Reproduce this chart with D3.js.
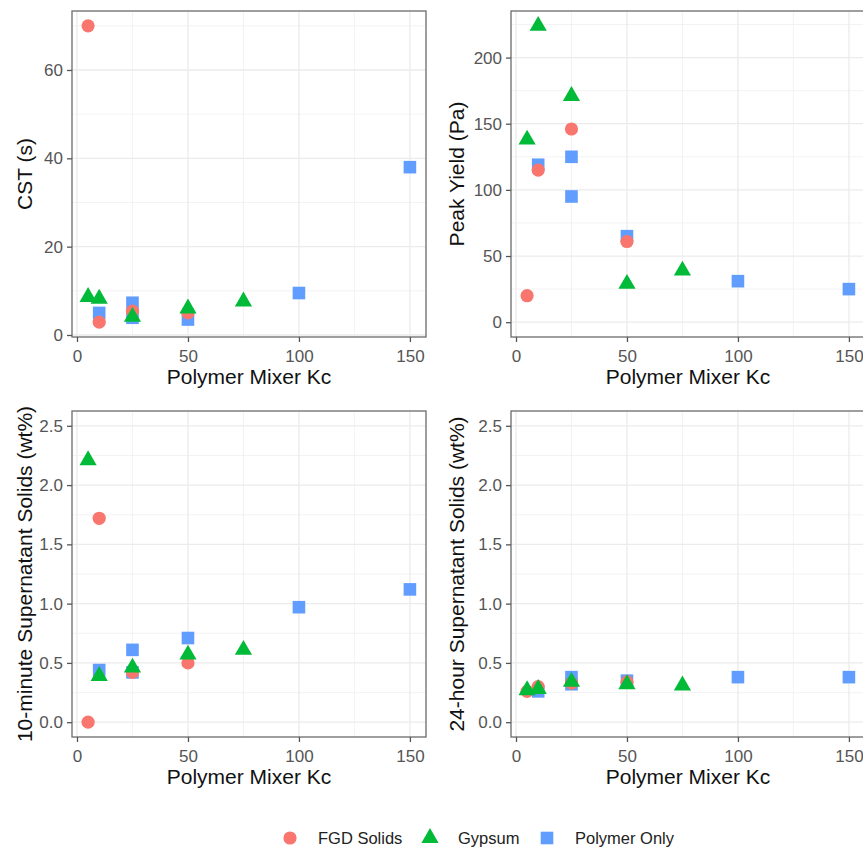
<!DOCTYPE html>
<html><head><meta charset="utf-8">
<script src="https://cdn.jsdelivr.net/npm/d3@7"></script>
<style>
html,body{margin:0;padding:0;background:#fff;overflow:hidden;}
svg{display:block;font-family:"Liberation Sans",Arial,sans-serif;}
</style></head>
<body>
<svg id="chart" width="863" height="851"></svg>
<script>
// ---- data ----
const seriesNames = ["FGD Solids", "Gypsum", "Polymer Only"];
const kcFGD  = [5, 10, 25, 50];
const kcGyp  = [5, 10, 25, 50, 75];
const kcPoly = [10, 25, 25, 50, 100, 150];

const cstFGD  = [70, 2.9, 5.4, 5.0];
const cstGyp  = [8.6, 8.2, 4.1, 6.0, 7.6];
const cstPoly = [5.0, 7.3, 3.9, 3.5, 9.5, 38];

const peakFGD  = [20, 115, 146, 61];
const peakGyp  = [138, 224, 171, 29, 39];
const peakPoly = [119, 125, 95, 65, 31, 25];

const ss10FGD  = [0.0, 1.72, 0.42, 0.50];
const ss10Gyp  = [2.21, 0.39, 0.46, 0.57, 0.61];
const ss10Poly = [0.44, 0.61, 0.42, 0.71, 0.97, 1.12];

const ss24FGD  = [0.26, 0.30, 0.33, 0.34];
const ss24Gyp  = [0.27, 0.28, 0.34, 0.32, 0.31];
const ss24Poly = [0.26, 0.38, 0.32, 0.35, 0.38, 0.38];

const xTicks = [0, 50, 100, 150];
const yTicksCST  = [0, 20, 40, 60];
const yTicksPeak = [0, 50, 100, 150, 200];
const yTicksSS   = [0, 0.5, 1.0, 1.5, 2.0, 2.5];

const yTitles = ["CST (s)", "Peak Yield (Pa)", "10-minute Supernatant Solids (wt%)", "24-hour Supernatant Solids (wt%)"];
const xTitle = "Polymer Mixer Kc";

// ---- config ----
const colors = {"FGD Solids": "#F8766D", "Gypsum": "#00BA38", "Polymer Only": "#619CFF"};
const shapes = {"FGD Solids": "circle", "Gypsum": "triangle", "Polymer Only": "square"};
const drawOrder = ["Polymer Only", "FGD Solids", "Gypsum"];

const panels = [
  {left: 72, top: 11, width: 354, height: 326, title: yTitles[0], ticks: yTicksCST, fmt: d3.format("d"),
   data: {"FGD Solids": cstFGD, "Gypsum": cstGyp, "Polymer Only": cstPoly}, limits: null, titleX: 24},
  {left: 511, top: 11, width: 354, height: 326, title: yTitles[1], ticks: yTicksPeak, fmt: d3.format("d"),
   data: {"FGD Solids": peakFGD, "Gypsum": peakGyp, "Polymer Only": peakPoly}, limits: [0, null], titleX: 456},
  {left: 72, top: 411, width: 354, height: 326, title: yTitles[2], ticks: yTicksSS, fmt: d3.format(".1f"),
   data: {"FGD Solids": ss10FGD, "Gypsum": ss10Gyp, "Polymer Only": ss10Poly}, limits: [0, 2.5], titleX: 24},
  {left: 511, top: 411, width: 354, height: 326, title: yTitles[3], ticks: yTicksSS, fmt: d3.format(".1f"),
   data: {"FGD Solids": ss24FGD, "Gypsum": ss24Gyp, "Polymer Only": ss24Poly}, limits: [0, 2.5], titleX: 456}
];
const xs = {"FGD Solids": kcFGD, "Gypsum": kcGyp, "Polymer Only": kcPoly};

function expand(lo, hi) { const r = hi - lo; return [lo - 0.05 * r, hi + 0.05 * r]; }

const svg = d3.select("#chart");
const allX = [].concat(kcFGD, kcGyp, kcPoly);
const xDom = expand(d3.min(allX), d3.max(allX));

function drawSymbol(g, shape, color) {
  if (shape === "circle") {
    g.append("circle").attr("r", 6.6).attr("fill", color);
  } else if (shape === "square") {
    g.append("rect").attr("x", -6.3).attr("y", -6.3).attr("width", 12.6).attr("height", 12.6).attr("fill", color);
  } else {
    g.append("path").attr("d", d3.symbol(d3.symbolTriangle, 128)()).attr("fill", color);
  }
}

panels.forEach(p => {
  let vals = [];
  seriesNames.forEach(s => vals = vals.concat(p.data[s]));
  let lo = d3.min(vals), hi = d3.max(vals);
  if (p.limits) {
    if (p.limits[0] !== null) lo = Math.min(lo, p.limits[0]);
    if (p.limits[1] !== null) hi = Math.max(hi, p.limits[1]);
  }
  const yDom = expand(lo, hi);
  const x = d3.scaleLinear().domain(xDom).range([0, p.width]);
  const y = d3.scaleLinear().domain(yDom).range([p.height, 0]);

  const g = svg.append("g").attr("transform", `translate(${p.left},${p.top})`);
  g.append("rect").attr("width", p.width).attr("height", p.height).attr("fill", "#fff");

  // minor grid
  const xMinor = xTicks.slice(0, -1).map((t, i) => (t + xTicks[i + 1]) / 2);
  const ystep = p.ticks[1] - p.ticks[0];
  const yMinor = p.ticks.map(t => t + ystep / 2).concat([p.ticks[0] - ystep / 2])
    .filter(v => v > yDom[0] && v < yDom[1]);
  g.selectAll(".xminor").data(xMinor).enter().append("line")
    .attr("x1", d => x(d)).attr("x2", d => x(d)).attr("y1", 0).attr("y2", p.height)
    .attr("stroke", "#F0F0F0").attr("stroke-width", 0.8);
  g.selectAll(".yminor").data(yMinor).enter().append("line")
    .attr("y1", d => y(d)).attr("y2", d => y(d)).attr("x1", 0).attr("x2", p.width)
    .attr("stroke", "#F0F0F0").attr("stroke-width", 0.8);
  // major grid
  g.selectAll(".xmajor").data(xTicks).enter().append("line")
    .attr("x1", d => x(d)).attr("x2", d => x(d)).attr("y1", 0).attr("y2", p.height)
    .attr("stroke", "#EBEBEB").attr("stroke-width", 1.3);
  g.selectAll(".ymajor").data(p.ticks).enter().append("line")
    .attr("y1", d => y(d)).attr("y2", d => y(d)).attr("x1", 0).attr("x2", p.width)
    .attr("stroke", "#EBEBEB").attr("stroke-width", 1.3);

  // points
  drawOrder.forEach(s => {
    const pts = p.data[s].map((v, i) => ({x: xs[s][i], y: v}));
    pts.forEach(pt => {
      const sg = g.append("g").attr("transform", `translate(${x(pt.x)},${y(pt.y)})`);
      drawSymbol(sg, shapes[s], colors[s]);
    });
  });

  // border
  g.append("rect").attr("width", p.width).attr("height", p.height)
    .attr("fill", "none").attr("stroke", "#6b6b6b").attr("stroke-width", 1.3);

  // axes
  const xa = g.append("g").attr("transform", `translate(0,${p.height})`)
    .call(d3.axisBottom(x).tickValues(xTicks).tickSize(5).tickPadding(4).tickFormat(d3.format("d")));
  const ya = g.append("g")
    .call(d3.axisLeft(y).tickValues(p.ticks).tickSize(5).tickPadding(4).tickFormat(p.fmt));
  [xa, ya].forEach(a => {
    a.select(".domain").remove();
    a.selectAll(".tick line").attr("stroke", "#555").attr("stroke-width", 1.3);
    a.selectAll(".tick text").attr("fill", "#555").attr("font-size", 17)
      .attr("font-family", "Liberation Sans, Arial, sans-serif");
  });
  xa.selectAll(".tick text").attr("dy", "0.95em");

  // titles
  g.append("text").attr("x", p.width / 2).attr("y", p.height + 47)
    .attr("text-anchor", "middle").attr("font-size", 21).attr("fill", "#111").text(xTitle);
  svg.append("text")
    .attr("transform", `translate(${p.titleX + 7.5},${p.top + p.height / 2}) rotate(-90)`)
    .attr("text-anchor", "middle").attr("font-size", 21).attr("fill", "#111").text(p.title);
});

// legend
const legendItems = [
  {name: "FGD Solids", sx: 290, tx: 318},
  {name: "Gypsum", sx: 430, tx: 458},
  {name: "Polymer Only", sx: 547, tx: 575}
];
const lg = svg.append("g");
legendItems.forEach(it => {
  const sg = lg.append("g").attr("transform", `translate(${it.sx},838)`);
  drawSymbol(sg, shapes[it.name], colors[it.name]);
  lg.append("text").attr("x", it.tx).attr("y", 844).attr("font-size", 16.5).attr("fill", "#222").text(it.name);
});
</script>
</body></html>
